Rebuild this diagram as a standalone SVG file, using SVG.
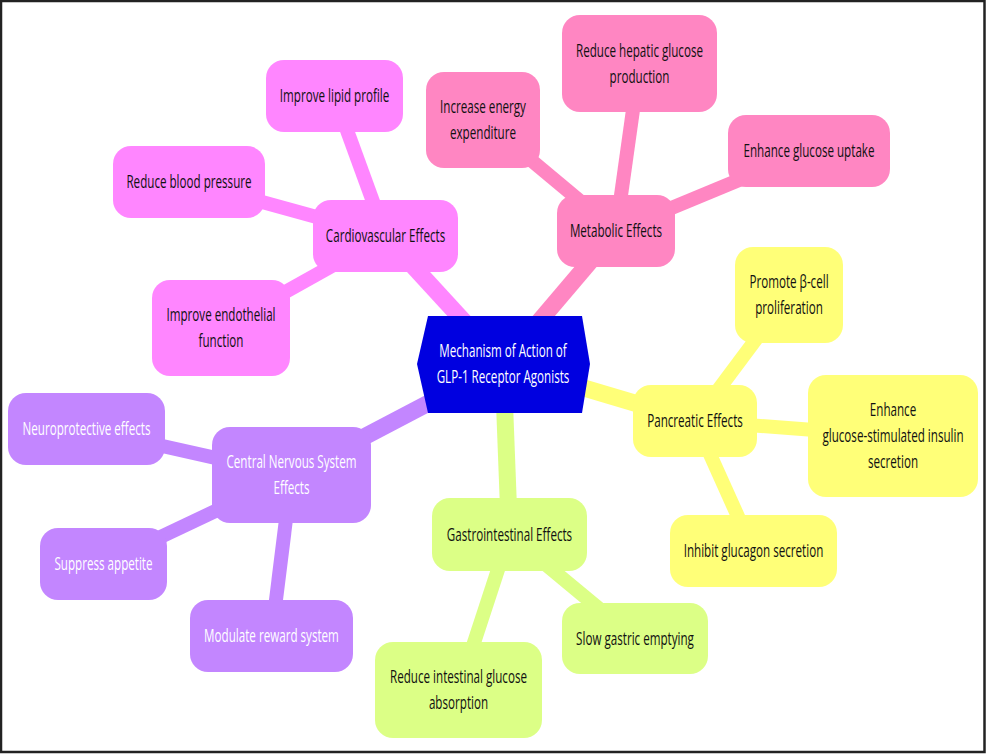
<svg xmlns="http://www.w3.org/2000/svg" width="986" height="754" viewBox="0 0 986 754">
<style>
text{font-family:"Open Sans","Noto Sans","Liberation Sans",sans-serif;font-size:19px;text-anchor:middle}
.e0{stroke-width:17;fill:none}
.e1{stroke-width:14;fill:none}
.dk{fill:#111}
.wh{fill:#fff}
.y{fill:#ffff78}
.g{fill:#dcff86}
.p{fill:#c386ff}
.m{fill:#ff86ff}
.r{fill:#ff86c2}
.sy{stroke:#ffff78}
.sg{stroke:#dcff86}
.sp{stroke:#c386ff}
.sm{stroke:#ff86ff}
.sr{stroke:#ff86c2}
</style>
<rect x="0" y="0" width="986" height="754" fill="#fff"/>
<g id="connectors">
<line class="e0 sm" x1="503" y1="364" x2="385.5" y2="236"/>
<line class="e0 sr" x1="503" y1="364" x2="616" y2="231"/>
<line class="e0 sy" x1="503" y1="364" x2="695" y2="421"/>
<line class="e0 sg" x1="503" y1="364" x2="509.5" y2="534.5"/>
<line class="e0 sp" x1="503" y1="364" x2="291.5" y2="475"/>
<line class="e1 sm" x1="385.5" y1="236" x2="334.5" y2="96"/>
<line class="e1 sm" x1="385.5" y1="236" x2="189" y2="182"/>
<line class="e1 sm" x1="385.5" y1="236" x2="221" y2="328"/>
<line class="e1 sr" x1="616" y1="231" x2="483" y2="120"/>
<line class="e1 sr" x1="616" y1="231" x2="639.5" y2="63.5"/>
<line class="e1 sr" x1="616" y1="231" x2="809" y2="151"/>
<line class="e1 sy" x1="695" y1="421" x2="789" y2="295"/>
<line class="e1 sy" x1="695" y1="421" x2="893" y2="436"/>
<line class="e1 sy" x1="695" y1="421" x2="753.5" y2="551"/>
<line class="e1 sg" x1="509.5" y1="534.5" x2="635" y2="638.5"/>
<line class="e1 sg" x1="509.5" y1="534.5" x2="458.5" y2="690"/>
<line class="e1 sp" x1="291.5" y1="475" x2="86.5" y2="429"/>
<line class="e1 sp" x1="291.5" y1="475" x2="103.5" y2="564"/>
<line class="e1 sp" x1="291.5" y1="475" x2="271.5" y2="636"/>
</g>
<g id="root">
<polygon points="417,364 428,316 582,316 590,364 582,413 428,413" fill="#0000e0"/>
<text class="wh" transform="translate(503 0) scale(0.612 1)" x="0" y="357.5">Mechanism of Action of</text>
<text class="wh" transform="translate(503 0) scale(0.612 1)" x="0" y="383.5">GLP-1 Receptor Agonists</text>
</g>
<g id="cardio">
<rect class="m" x="313" y="200" width="145" height="72" rx="18"/>
<text class="dk" transform="translate(385.5 0) scale(0.612 1)" x="0" y="242.5">Cardiovascular Effects</text>
</g>
<g id="lipid">
<rect class="m" x="266" y="60" width="137" height="72" rx="18"/>
<text class="dk" transform="translate(334.5 0) scale(0.612 1)" x="0" y="102.5">Improve lipid profile</text>
</g>
<g id="bp">
<rect class="m" x="113" y="146" width="152" height="72" rx="18"/>
<text class="dk" transform="translate(189 0) scale(0.612 1)" x="0" y="188.5">Reduce blood pressure</text>
</g>
<g id="endo">
<rect class="m" x="152" y="280" width="138" height="96" rx="18"/>
<text class="dk" transform="translate(221 0) scale(0.612 1)" x="0" y="321.5">Improve endothelial</text>
<text class="dk" transform="translate(221 0) scale(0.612 1)" x="0" y="347.5">function</text>
</g>
<g id="metabolic">
<rect class="r" x="557" y="195" width="118" height="72" rx="18"/>
<text class="dk" transform="translate(616 0) scale(0.612 1)" x="0" y="237.5">Metabolic Effects</text>
</g>
<g id="energy">
<rect class="r" x="426" y="72" width="114" height="96" rx="18"/>
<text class="dk" transform="translate(483 0) scale(0.612 1)" x="0" y="113.5">Increase energy</text>
<text class="dk" transform="translate(483 0) scale(0.612 1)" x="0" y="139.5">expenditure</text>
</g>
<g id="hepatic">
<rect class="r" x="562" y="15" width="155" height="97" rx="18"/>
<text class="dk" transform="translate(639.5 0) scale(0.612 1)" x="0" y="57">Reduce hepatic glucose</text>
<text class="dk" transform="translate(639.5 0) scale(0.612 1)" x="0" y="83">production</text>
</g>
<g id="uptake">
<rect class="r" x="728" y="115" width="162" height="72" rx="18"/>
<text class="dk" transform="translate(809 0) scale(0.612 1)" x="0" y="157.5">Enhance glucose uptake</text>
</g>
<g id="pancreatic">
<rect class="y" x="633" y="385" width="124" height="72" rx="18"/>
<text class="dk" transform="translate(695 0) scale(0.612 1)" x="0" y="427.5">Pancreatic Effects</text>
</g>
<g id="insulin">
<rect class="y" x="808" y="375" width="170" height="122" rx="18"/>
<text class="dk" transform="translate(893 0) scale(0.612 1)" x="0" y="416.5">Enhance</text>
<text class="dk" transform="translate(893 0) scale(0.612 1)" x="0" y="442.5">glucose-stimulated insulin</text>
<text class="dk" transform="translate(893 0) scale(0.612 1)" x="0" y="468.5">secretion</text>
</g>
<g id="beta">
<rect class="y" x="735" y="247" width="108" height="96" rx="18"/>
<text class="dk" transform="translate(789 0) scale(0.612 1)" x="0" y="288.5">Promote β-cell</text>
<text class="dk" transform="translate(789 0) scale(0.612 1)" x="0" y="314.5">proliferation</text>
</g>
<g id="glucagon">
<rect class="y" x="670" y="515" width="167" height="72" rx="18"/>
<text class="dk" transform="translate(753.5 0) scale(0.612 1)" x="0" y="557.5">Inhibit glucagon secretion</text>
</g>
<g id="gastro">
<rect class="g" x="432" y="498" width="155" height="73" rx="18"/>
<text class="dk" transform="translate(509.5 0) scale(0.612 1)" x="0" y="541">Gastrointestinal Effects</text>
</g>
<g id="gastric">
<rect class="g" x="562" y="603" width="146" height="71" rx="18"/>
<text class="dk" transform="translate(635 0) scale(0.612 1)" x="0" y="645">Slow gastric emptying</text>
</g>
<g id="intestinal">
<rect class="g" x="375" y="642" width="167" height="96" rx="18"/>
<text class="dk" transform="translate(458.5 0) scale(0.612 1)" x="0" y="683.5">Reduce intestinal glucose</text>
<text class="dk" transform="translate(458.5 0) scale(0.612 1)" x="0" y="709.5">absorption</text>
</g>
<g id="cns">
<rect class="p" x="212" y="427" width="159" height="96" rx="18"/>
<text class="wh" transform="translate(291.5 0) scale(0.612 1)" x="0" y="468.5">Central Nervous System</text>
<text class="wh" transform="translate(291.5 0) scale(0.612 1)" x="0" y="494.5">Effects</text>
</g>
<g id="neuro">
<rect class="p" x="8" y="393" width="157" height="72" rx="18"/>
<text class="wh" transform="translate(86.5 0) scale(0.612 1)" x="0" y="435.5">Neuroprotective effects</text>
</g>
<g id="appetite">
<rect class="p" x="40" y="528" width="127" height="72" rx="18"/>
<text class="wh" transform="translate(103.5 0) scale(0.612 1)" x="0" y="570.5">Suppress appetite</text>
</g>
<g id="reward">
<rect class="p" x="190" y="600" width="163" height="72" rx="18"/>
<text class="wh" transform="translate(271.5 0) scale(0.612 1)" x="0" y="642.5">Modulate reward system</text>
</g>
<rect x="1" y="1" width="983.5" height="751" fill="none" stroke="#222" stroke-width="2.5"/>
</svg>
